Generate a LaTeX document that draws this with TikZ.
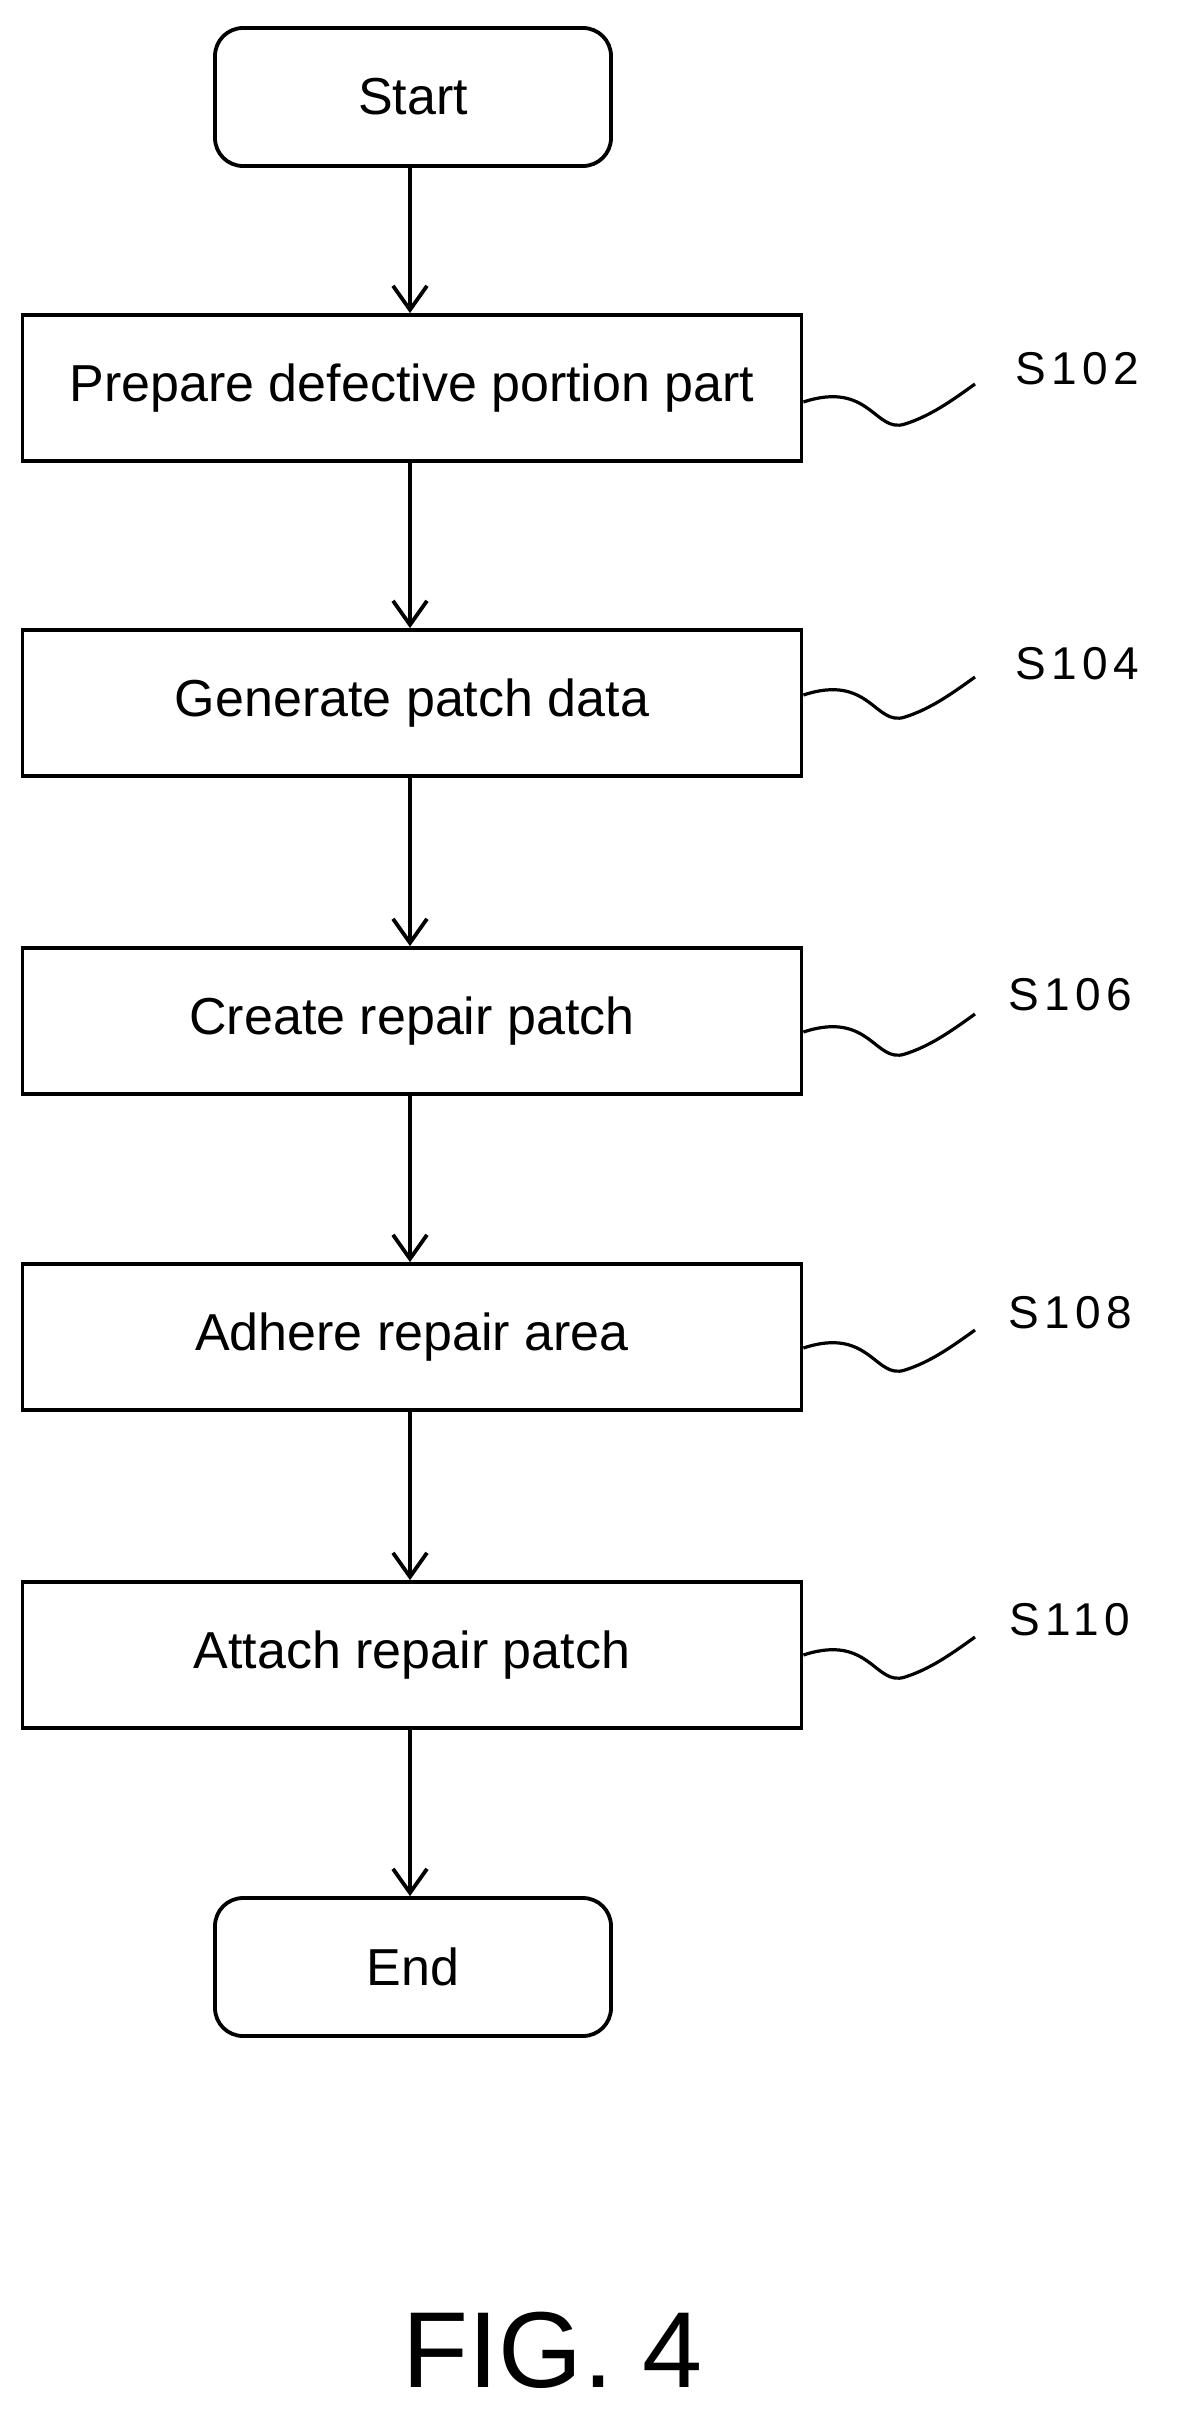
\documentclass[tikz,border=0pt]{standalone}
\usepackage{fontspec}
\setmainfont{Liberation Sans}
\newfontfamily\labfont[LetterSpace=12]{Liberation Sans}
\usetikzlibrary{arrows.meta}
\begin{document}
\begin{tikzpicture}[x=1pt,y=-1pt,line width=3.8pt,
 box/.style={draw,minimum width=779pt,minimum height=146pt,font=\fontsize{52}{54}\selectfont,inner sep=0pt},
 term/.style={draw,rounded corners=28pt,minimum width=396pt,minimum height=138pt,font=\fontsize{52}{54}\selectfont},
 arr/.style={-{Straight Barb[length=24pt,width=34pt,line width=3.8pt]}},
 lab/.style={font=\labfont\fontsize{46}{48}\selectfont},
 sq/.style={line width=3.2pt}]
\useasboundingbox (0,0) rectangle (1183,2422);
\node[term] (start) at (413,97) {Start};
\node[box] (b1) at (412,388) {Prepare defective portion part};
\node[box] (b2) at (412,703) {Generate patch data};
\node[box] (b3) at (412,1021) {Create repair patch};
\node[box] (b4) at (412,1337) {Adhere repair area};
\node[box] (b5) at (412,1655) {Attach repair patch};
\node[term] (end) at (413,1967) {End};
\draw[arr] (start.south -| 410,0) -- (b1.north -| 410,0);
\draw[arr] (b1.south -| 410,0) -- (b2.north -| 410,0);
\draw[arr] (b2.south -| 410,0) -- (b3.north -| 410,0);
\draw[arr] (b3.south -| 410,0) -- (b4.north -| 410,0);
\draw[arr] (b4.south -| 410,0) -- (b5.north -| 410,0);
\draw[arr] (b5.south -| 410,0) -- (end.north -| 410,0);
\foreach \n/\t/\y/\lx/\ly in {b1/S102/402/1077/369, b2/S104/695/1077/664, b3/S106/1032/1070/995, b4/S108/1348/1070/1313, b5/S110/1655/1070/1620}{
  \coordinate (e\n) at (975,\y-18);
  \draw[sq] (\n.east |- 0,\y) .. controls (870,\y-22) and (875,\y+32) .. (905,\y+22) .. controls (930,\y+14) and (950,\y) .. (e\n);
  \node[lab] (l\n) at (\lx,\ly) {\t};
}
\node[font=\fontsize{108}{110}\selectfont] (fig) at (553,2350) {FIG. 4};
\end{tikzpicture}
\end{document}
